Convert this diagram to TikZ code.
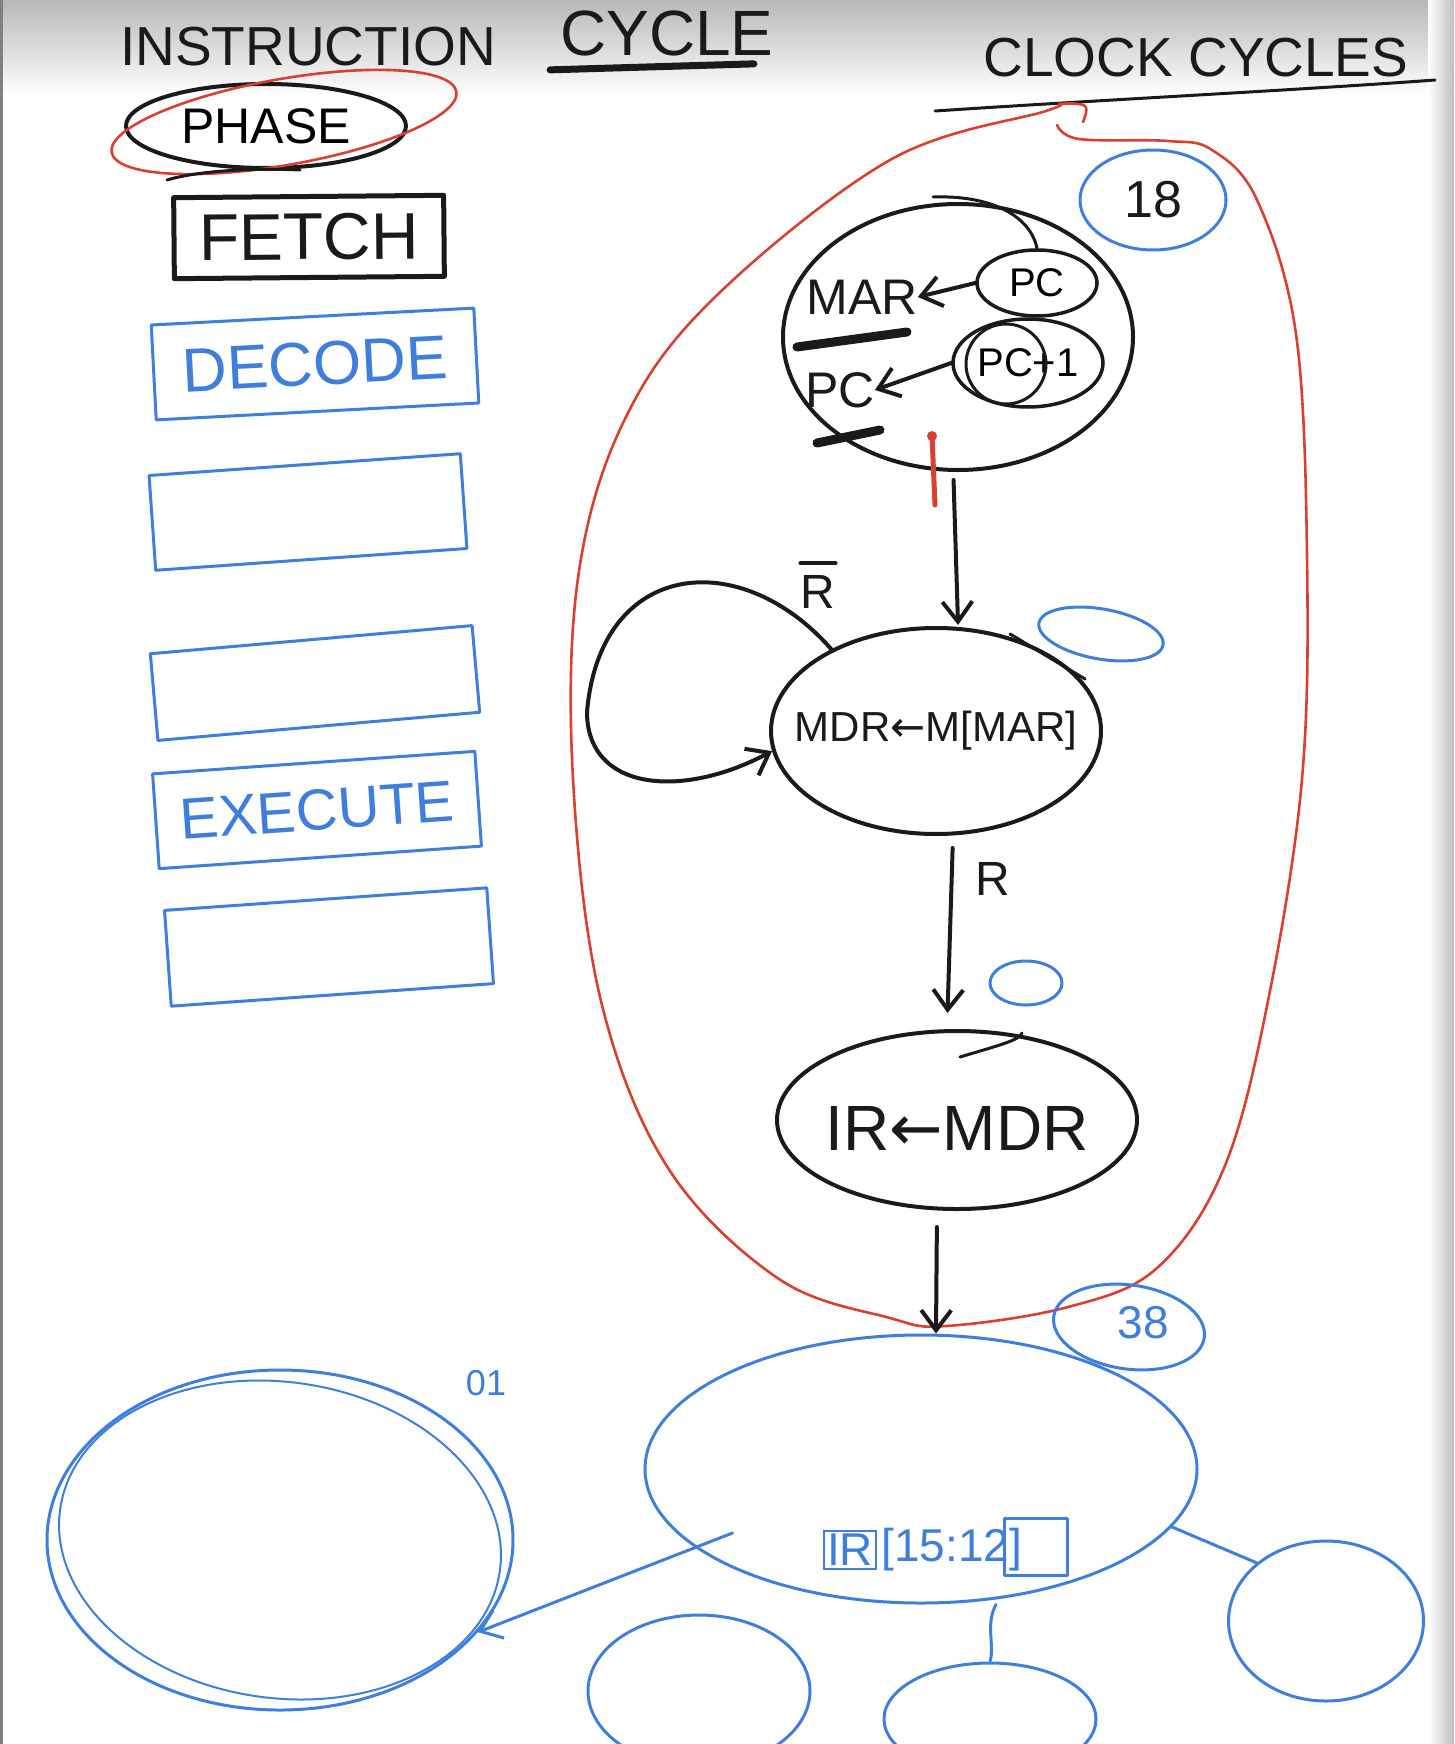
\documentclass[tikz,border=0pt]{standalone}
\usepackage{fontspec}
\setmainfont{Liberation Sans}
\newfontfamily\arr{DejaVu Sans}
\usetikzlibrary{shapes.geometric,arrows.meta}
\definecolor{ink}{HTML}{1A1A1A}
\definecolor{rink}{HTML}{D8412F}
\definecolor{bink}{HTML}{3F7FDB}
\newcommand\fsz[1]{\fontsize{#1}{#1}\selectfont}
\begin{document}
\begin{tikzpicture}[x=1pt,y=-1pt,
  blkpen/.style={draw=ink, line width=4pt, line cap=round, line join=round},
  blupen/.style={draw=bink, line width=3pt, line cap=round, line join=round},
  redpen/.style={draw=rink, line width=2.6pt, line cap=round, line join=round},
  ell/.style={ellipse, inner sep=0pt},
  lbl/.style={inner sep=0pt, text=ink},
  blbl/.style={inner sep=0pt, text=bink},
  barb/.style={-{Straight Barb[length=20pt,width=30pt]}},
  pbox/.style={rectangle, blupen, inner sep=0pt, text=bink}
]
\useasboundingbox (0,0) rectangle (1454,1744);
\fill[white] (0,0) rectangle (1454,1744);
\shade[top color=black!28, bottom color=white] (0,0) rectangle (1454,95);
\shade[left color=white, right color=black!25] (1428,0) rectangle (1454,1744);
\draw[black!50, line width=3pt] (1.5,0) -- (1.5,1744);

% titles
\node[lbl] (title1) at (308,47) {\fsz{55}INSTRUCTION};
\node[lbl] (title2) at (667,33) {\fsz{64}CYCLE};
\draw[blkpen, line width=7pt] ([shift={(-10pt,-14pt)}]title2.south west) -- ([shift={(-20pt,-8pt)}]title2.south east);
\node[lbl] (clock) at (1196,58) {\fsz{55}CLOCK CYCLES};
\draw[blkpen, line width=3pt] (935,111) .. controls (1100,100) and (1300,90) .. (1435,80);

% phase column
\node[ell, blkpen, minimum width=280pt, minimum height=84pt] (phase) at (266,126) {\fsz{50}PHASE};
\node[ell, redpen, minimum width=350pt, minimum height=86pt, rotate=10] (phasering) at (284,122) {};
\draw[blkpen, line width=3pt] (167,180) .. controls (200,170) and (260,168) .. (300,170);
\node[rectangle, blkpen, line width=5pt, minimum width=270pt, minimum height=81pt, rotate=0.5, lbl] (fetch) at (309,237) {\fsz{66}FETCH};
\node[pbox, minimum width=323pt, minimum height=95pt, rotate=3] (decode) at (315,364) {\fsz{62}DECODE};
\node[pbox, minimum width=312pt, minimum height=95pt, rotate=4] (emptyA) at (308,512) {};
\node[pbox, minimum width=323pt, minimum height=87pt, rotate=5] (emptyB) at (315,683) {};
\node[pbox, minimum width=323pt, minimum height=95pt, rotate=4] (exec) at (317,810) {\fsz{58}EXECUTE};
\node[pbox, minimum width=323pt, minimum height=96pt, rotate=4] (emptyC) at (329,947) {};

% red grouping loop
\draw[redpen] plot[smooth, tension=0.6] coordinates {(1083,122) (1085,106) (1060,104) (1046,111) (890,160) (712,300) (623,423) (578,578) (573,779) (601,1001) (668,1168) (779,1279) (890,1318) (946,1326) (1068,1307) (1157,1268) (1224,1168) (1268,1001) (1302,779) (1307,556) (1296,334) (1257,200) (1212,150) (1168,141) (1079,139) (1057,125)};

% state 1
\node[ell, blkpen, minimum width=350pt, minimum height=266pt] (st1) at (958,337) {};
\node[lbl] (mar) at (862,297) {\fsz{50}MAR};
\node[ell, blkpen, line width=3.5pt, minimum width=120pt, minimum height=66pt] (pcA) at (1037,283) {\fsz{40}PC};
\draw[blkpen, barb] (pcA.west) -- (mar.east);
\draw[blkpen, line width=9pt] (797,347) -- (907,332);
\node[lbl] (pcB) at (840,390) {\fsz{50}PC};
\node[ell, blkpen, line width=3.5pt, minimum width=150pt, minimum height=88pt] (pcinc) at (1028,363) {\fsz{40}PC+1};
\node[circle, blkpen, line width=3pt, minimum size=80pt] (pcring) at (1006,364) {};
\draw[blkpen, barb] (pcinc.west) -- (pcB.east);
\draw[blkpen, line width=9pt] (817,443) -- (880,430);
\draw[blkpen, line width=3pt] (933,197) .. controls (990,195) and (1030,215) .. (pcA.north);
\draw[redpen, line width=5pt] (932,436) -- (935,505);
\fill[rink] (932,436) circle (5);
\node[ell, blupen, minimum width=146pt, minimum height=100pt, lbl] (n18) at (1153,200) {\fsz{52}18};

% state 2
\node[ell, blkpen, minimum width=330pt, minimum height=206pt] (st2) at (936,731) {};
\node[lbl] (st2txt) at (st2.center) {\fsz{42}MDR{\arr ←}M[MAR]};
\draw[blkpen, barb, shorten <=8pt, shorten >=2pt] (st1.268) -- (st2.78);
\draw[blkpen, barb] (st2.142) .. controls (740,545) and (600,560) .. (587,712) .. controls (587,790) and (680,800) .. (st2.187);
\node[lbl] (rbar) at (818,592) {\fsz{48}R};
\draw[blkpen, line width=4pt] ([yshift=12pt]rbar.north west) -- ([yshift=12pt]rbar.north east);
\draw[blkpen, line width=3pt] (1010,634) -- (1085,679);
\node[ell, blupen, minimum width=126pt, minimum height=50pt, rotate=-10] (bx1) at (1101,634) {};

% state 3
\node[ell, blkpen, minimum width=360pt, minimum height=178pt] (st3) at (957,1120) {};
\node[lbl] (st3txt) at ([yshift=-8pt]st3.center) {\fsz{64}IR{\arr ←}MDR};
\draw[blkpen, line width=3pt] (960,1057) .. controls (1000,1045) and (1020,1040) .. (1022,1033);
\draw[blkpen, barb, shorten <=12pt, shorten >=16pt] ([xshift=17pt]st2.south) -- ([xshift=-10pt]st3.north);
\node[lbl] (rlab) at (993,879) {\fsz{48}R};
\node[ell, blupen, minimum width=72pt, minimum height=44pt] (bx2) at (1026,983) {};

% decode state
\node[ell, blupen, minimum width=552pt, minimum height=268pt] (dec) at (921,1469) {};
\draw[blkpen, barb, shorten <=16pt] ([xshift=-20pt]st3.south) -- ([xshift=15pt]dec.north);
\node[ell, blupen, minimum width=152pt, minimum height=84pt, rotate=-8] (n38) at (1129,1327) {};
\node[blbl] (t38) at (1143,1323) {\fsz{46}38};
\node[blbl, draw=bink, line width=2.5pt, inner sep=3pt] (irf) at (850,1550) {\fsz{46}IR};
\node[blbl, anchor=west] (bits) at ([xshift=4pt]irf.east) {\fsz{46}[15:12]};
\draw[blupen, line width=2.5pt] ([shift={(-18pt,10pt)}]bits.north east) rectangle ([shift={(45pt,-4pt)}]bits.south east);

% opcode targets
\node[ell, blupen, minimum width=466pt, minimum height=340pt] (n01) at (280,1540) {};
\draw[blupen, line width=2pt, rotate around={-8:(n01.center)}] (n01.center) ellipse (222 and 158);
\node[blbl] (l01) at (486,1383) {\fsz{36}01};
\draw[blupen, barb] ([shift={(89pt,-64pt)}]dec.west) -- (n01.-25);
\node[ell, blupen, minimum width=222pt, minimum height=152pt] (bA) at (699,1691) {};
\node[ell, blupen, minimum width=212pt, minimum height=112pt] (bB) at (990,1719) {};
\node[ell, blupen, minimum width=195pt, minimum height=160pt] (bC) at (1326,1621) {};
\draw[blupen] ([xshift=75pt]dec.south) .. controls (985,1625) and (995,1645) .. (bB.north);
\draw[blupen] (dec.-13) -- (bC.140);
\end{tikzpicture}
\end{document}
